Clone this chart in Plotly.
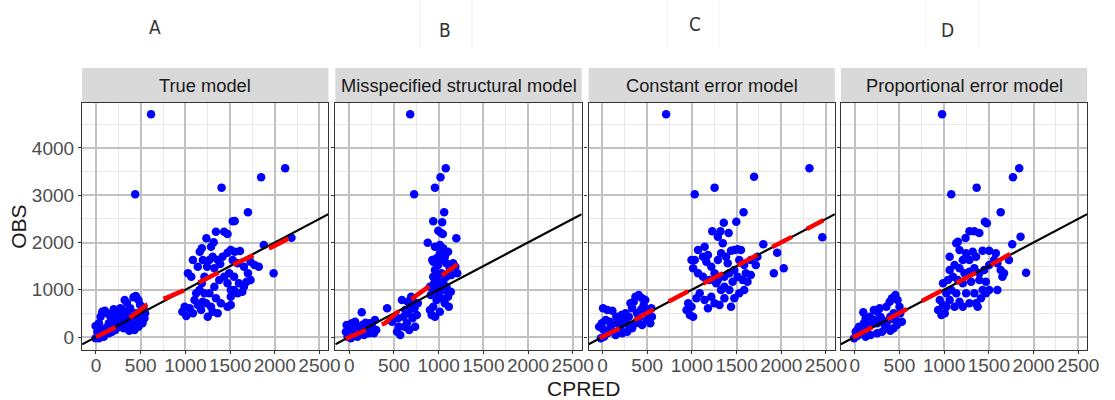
import plotly.graph_objects as go

# ---------------- data ----------------
panel_titles = ["True model", "Misspecified structural model",
                "Constant error model", "Proportional error model"]
panel_letters = ["A", "B", "C", "D"]
x_ticks = [0, 500, 1000, 1500, 2000, 2500]
x_minor = [250, 750, 1250, 1750, 2250]
y_ticks = [0, 1000, 2000, 3000, 4000]
y_minor = [500, 1500, 2500, 3500, 4500]
x_range = [-155, 2600]
y_range = [-275, 4952]

# Panel A: True model (CPRED, OBS)
xA = [33, 52, 70, 100, 125, 33, 70, 107, 144, 181, 218, 254, 273, 299, 321, 347, 383, 402, 420, 446,
      476, 513, 505, 476, 439, 402, 365, 328, 291, 254, 218, 181, 144, 88, 33, -4, 181, 236, 284, 347,
      383, 446, 494, 531, 549, 542, 520, 476, 431, 372, 15, -4, 199, 162, 310, 439, 616,
      966, 1010, 992, 1047, 1084, 1029, 1066, 1121, 1102, 1139, 1176, 1195, 1158, 1184, 1213, 1243, 1161,
      1184, 1235, 1287, 1305, 1342, 1434, 1471, 1316, 1268, 1324, 1361, 1390, 1416, 1471, 1508, 1552, 1611,
      1530, 1585, 1655, 1729, 1773, 1700, 1729, 1685, 1637, 1545, 1508, 1471, 1397, 1342, 1287, 1232, 1269,
      1324, 1379, 1434, 1490, 1545, 1600, 1471, 1508, 1213, 1250, 1305, 1361, 1508, 1585, 1655, 1821, 1877,
      1987, 2187, 1530, 1552, 1700, 1405, 1847, 2116, 1139, 1084, 1195]
yA = [289, 430, 536, 557, 501, 162, 92, 183, 289, 346, 430, 501, 607, 571, 783, 727, 607, 430, 840, 868,
      783, 642, 501, 360, 254, 219, 289, 395, 289, 219, 148, 113, 78, 7, -28, -28, 219, 325, 430, 501,
      360, 501, 677, 607, 501, 395, 289, 219, 148, 134, 113, 233, 586, 430, 183, 3019, 4712,
      536, 444, 642, 607, 501, 1348, 1277, 924, 783, 677, 571, 748, 995, 1136, 1277, 1489, 1806,
      1877, 2088, 1912, 1700, 2229, 2229, 2180, 2004, 1630, 1453, 1630, 1545, 1700, 1785, 1841, 1806, 1820,
      1630, 1559, 1489, 1594, 1524, 1348, 1206, 1171, 959, 995, 854, 642, 713, 818, 642, 713, 924,
      1065, 1206, 1277, 1348, 1277, 1136, 1136, 995, 924, 430, 536, 501, 677, 924, 1065, 1489, 1947,
      1348, 2102, 2448, 2455, 2638, 3161, 3379, 3570, 1489, 1630, 1630]
loessA_x = [0, 200, 400, 570, 800, 1000, 1200, 1400, 1600, 1800, 2000, 2190]
loessA_y = [0, 190, 440, 680, 840, 1000, 1200, 1400, 1590, 1760, 1930, 2120]

# Panel B: Misspecified structural model
xB = [-29, 0, 29, 55, 81, 111, 140, 147, 177, 203, 229, 258, 288, 302, 221, 92, 18, -18, -37, 66,
      166, 277, 129, 184, 251,
      424, 479, 535, 553, 571, 590, 608, 627, 645, 664, 682, 693, 708, 730, 737, 756, 767, 671, 619, 719,
      546, 656,
      922, 903, 940, 977, 911, 955, 996, 1032, 1069, 1106, 1136, 1088, 1051, 1014, 977, 940, 959, 996, 1032,
      1069, 1014, 977, 940, 1088, 1125, 1162, 1198, 1209, 1187, 1143, 1088, 1032, 996, 951, 929, 878, 959,
      1014, 1051, 996, 1025, 1047, 940, 1040, 1062, 959, 1021, 1080, 726, 682, 1114, 1014, 959, 1069, 903,
      1106]
yB = [254, 183, 289, 113, 219, 78, 522, 254, 148, 219, 289, 183, 360, 148, 78, 7, -28, 7, 113, 325,
      42, 78, 183, 303, 275,
      607, 325, 113, 219, 42, 783, 430, 571, 289, 501, 642, 854, 395, 607, 219, 466, 713, 148, 219, 748,
      395, 748,
      466, 571, 642, 783, 889, 995, 924, 818, 713, 854, 959, 1065, 1171, 1101, 1206, 1277, 1418, 1524, 1630,
      1700, 1771, 1665, 1594, 1559, 1453, 1559, 2088, 1348, 1489, 1312, 1277, 1348, 1312, 1136, 1630, 1997, 1912,
      1947, 1877, 2250, 2208, 2180, 2448, 2427, 2638, 3161, 3379, 3570, 3019, 4712, 642, 536, 430, 995, 1065,
      1806]
loessB_x = [-40, 200, 400, 530, 730, 885, 1070, 1210]
loessB_y = [-40, 160, 290, 500, 850, 1060, 1350, 1535]

# Panel C: Constant error model
xC = [-18, 18, 55, 7, -7, 7, 55, 111, 37, 92, 129, 166, 203, 184, 240, 258, 295, 332, 350, 369,
      406, 443, 461, 479, 516, 553, 535, 498, 443, 406, 369, 332, 277, 221, 147, 295, 387, 435, 214, 155,
      313, 479, 546, 81, -37,
      940, 977, 1014, 959, 996, 1051, 1088, 1143, 1180, 1217, 1254, 1309, 1364, 1438, 1475, 1530, 1585, 1419,
      1327, 1272, 1198, 1125, 1069, 1014, 1032, 996, 1069, 1125, 1162, 1217, 1254, 1291, 1364, 1419, 1475,
      1512, 1567, 1622, 1659, 1715, 1733, 1659, 1585, 1530, 1475, 1438, 1512, 1549, 1382, 1327, 1291, 1180,
      1143, 1346, 1291, 1228, 1320, 1412, 1357, 1497, 1578, 1799, 1954, 2028, 1917, 2459, 1032, 1254, 1696,
      2315, 712, 1401, 1604, 1456, 1364]
yC = [-28, 7, 78, 162, 289, 607, 571, 557, 360, 219, 113, 289, 219, 395, 360, 501, 430, 607, 748, 854,
      889, 818, 677, 571, 501, 430, 289, 360, 254, 395, 289, 183, 113, 78, 42, 254, 501, 586, 466, 430,
      713, 783, 607, 325, 219,
      571, 466, 430, 713, 642, 818, 924, 783, 607, 854, 713, 677, 818, 642, 818, 924, 995, 995,
      995, 1136, 1206, 1277, 1348, 1453, 1630, 1630, 1841, 1700, 1594, 1489, 1348, 1206, 1277, 1348, 1418,
      1277, 1206, 1171, 1312, 1524, 1700, 1630, 1524, 1630, 1841, 1827, 1855, 1841, 1700, 1771, 1630, 1736,
      1912, 1983, 2124, 2236, 2236, 2201, 2420, 2441, 2638, 1961, 1785, 1453, 1348, 2109, 3019, 3161, 3393,
      3570, 4712, 1559, 1348, 1171, 1065]
loessC_x = [-30, 250, 500, 750, 1000, 1250, 1500, 1750, 2000, 2250, 2470]
loessC_y = [-20, 240, 510, 760, 1000, 1250, 1500, 1740, 1990, 2240, 2470]

# Panel D: Proportional error model
xD = [-7, 29, 66, 11, 48, 96, 103, 140, 177, 214, 251, 214, 251, 288, 324, 361, 380, 354, 391, 417,
      454, 479, 501, 509, 527, 472, 435, 398, 306, 251, 177, 122, 74, 122, 170, 280, 435, 398, 343, 29,
      306, 454,
      933, 970, 1007, 1025, 988, 1062, 1117, 1172, 1209, 1283, 1357, 1412, 1467, 1504, 1430, 1338, 1246, 1136,
      1080, 988, 1043, 1099, 1154, 1209, 1302, 1394, 1467, 1062, 1117, 1172, 1228, 1283, 1338, 1394, 1449,
      1504, 1559, 1596, 1633, 1652, 1670, 1578, 1504, 1430, 1320, 1246, 1172, 1136, 1209, 1283, 1357, 1062,
      1154, 1239, 1283, 1338, 1394, 1456, 1478, 1633, 1762, 1855, 1917, 1725, 1080, 1364, 1770, 1840, 977,
      1025, 951, 1596, 1375]
yD = [-28, 21, 78, 113, 219, 522, 289, 183, 254, 360, 289, 571, 536, 430, 289, 219, 360, 642, 748, 818,
      889, 783, 642, 501, 325, 254, 183, 134, 113, 78, 42, 7, 113, 395, 430, 607, 501, 430, 183, 148,
      360, 360,
      571, 466, 501, 642, 677, 783, 642, 748, 642, 713, 713, 818, 924, 995, 995, 924, 924, 924,
      995, 1136, 1206, 1277, 1206, 1136, 1171, 1206, 1171, 1418, 1524, 1453, 1348, 1383, 1453, 1348, 1418,
      1524, 1630, 1559, 1418, 1277, 1348, 1771, 1827, 1827, 1806, 1771, 1841, 1983, 1630, 1630, 1700, 1700,
      2018, 2095, 2236, 2236, 2201, 2441, 2406, 2638, 1961, 2124, 1362, 1630, 3019, 3161, 3379, 3570, 4712,
      924, 783, 995, 642]
loessD_x = [-20, 250, 500, 750, 1000, 1250, 1500, 1750]
loessD_y = [-10, 250, 510, 760, 1000, 1250, 1500, 1770]

# ---------------- figure ----------------
W, H = 1115, 400
panel_left = [83, 339, 595, 850]
panel_w = 249
strip_top, plot_top, plot_bottom = 68, 103, 350
letter_pos = [(157, 27), (450, 30), (703, 24), (958, 30)]
faint_lines = [425, 477, 675, 727, 936, 989]


def px(x):
    return x / W


def py(y):
    return 1 - y / H


FONT = "Liberation Sans, Arial, Helvetica, sans-serif"
panels = [(xA, yA, loessA_x, loessA_y), (xB, yB, loessB_x, loessB_y),
          (xC, yC, loessC_x, loessC_y), (xD, yD, loessD_x, loessD_y)]

fig = go.Figure()
layout = dict(width=W, height=H, margin=dict(l=0, r=0, t=0, b=0),
              paper_bgcolor="white", plot_bgcolor="white", showlegend=False,
              font=dict(family=FONT))
shapes, annotations = [], []

for i, (xs, ys, lx, ly) in enumerate(panels):
    n = "" if i == 0 else str(i + 1)
    xa, ya = "x" + n, "y" + n
    fig.add_trace(go.Scatter(x=xs, y=ys, mode="markers", xaxis=xa, yaxis=ya,
                             marker=dict(color="#0000ff", size=8.5, line=dict(width=0)),
                             hoverinfo="skip"))
    fig.add_trace(go.Scatter(x=x_range, y=x_range, mode="lines", xaxis=xa, yaxis=ya,
                             line=dict(color="black", width=2.2), hoverinfo="skip"))
    fig.add_trace(go.Scatter(x=lx, y=ly, mode="lines", xaxis=xa, yaxis=ya,
                             line=dict(color="#ff0000", width=4.5, dash="22px,17px"),
                             hoverinfo="skip"))
    left = panel_left[i]
    common = dict(showline=True, linecolor="#333333", linewidth=1.4, mirror=True,
                  zeroline=False, ticks="outside", ticklen=3, tickwidth=1.3,
                  tickcolor="#333333", showgrid=True, gridcolor="#c2c2c2", gridwidth=1.8,
                  tickfont=dict(size=19, color="#4d4d4d", family=FONT))
    layout["xaxis" + n] = dict(common, domain=[px(left), px(left + panel_w)],
                               range=x_range, tickvals=x_ticks, anchor=ya,
                               ticklabelstandoff=-5,
                               minor=dict(tickvals=x_minor, showgrid=True,
                                          gridcolor="#e8e8e8", gridwidth=1, ticks=""))
    layout["yaxis" + n] = dict(common, domain=[py(plot_bottom), py(plot_top)],
                               range=y_range, tickvals=y_ticks, anchor=xa,
                               showticklabels=(i == 0),
                               minor=dict(tickvals=y_minor, showgrid=True,
                                          gridcolor="#e8e8e8", gridwidth=1, ticks=""))
    shapes.append(dict(type="rect", xref="paper", yref="paper",
                       x0=px(left), x1=px(left + panel_w),
                       y0=py(plot_top), y1=py(strip_top),
                       fillcolor="#d9d9d9", line=dict(width=0), layer="below"))
    annotations.append(dict(text=panel_titles[i], xref="paper", yref="paper",
                            x=px(left + panel_w / 2), y=py((strip_top + plot_top) / 2),
                            showarrow=False, xanchor="center", yanchor="middle",
                            font=dict(size=18.3, color="#1a1a1a", family=FONT)))
    lxp, lyp = letter_pos[i]
    annotations.append(dict(text=panel_letters[i], xref="paper", yref="paper",
                            x=px(lxp), y=py(lyp), showarrow=False,
                            xanchor="center", yanchor="middle",
                            font=dict(size=19, color="#333333",
                                      family="Liberation Sans Narrow, DejaVu Sans Condensed, " + FONT)))

for fx in faint_lines:
    shapes.append(dict(type="line", xref="paper", yref="paper",
                       x0=px(fx), x1=px(fx), y0=py(0), y1=py(48),
                       line=dict(color="#f2f2f2", width=1)))

annotations.append(dict(text="OBS", xref="paper", yref="paper", x=px(18), y=py(227),
                        showarrow=False, textangle=-90, xanchor="center", yanchor="middle",
                        font=dict(size=21, color="#1a1a1a", family=FONT)))
annotations.append(dict(text="CPRED", xref="paper", yref="paper", x=px(590), y=py(388),
                        showarrow=False, xanchor="center", yanchor="middle",
                        font=dict(size=21, color="#1a1a1a", family=FONT)))

layout["shapes"] = shapes
layout["annotations"] = annotations
fig.update_layout(**layout)
fig.write_html("out.html")
